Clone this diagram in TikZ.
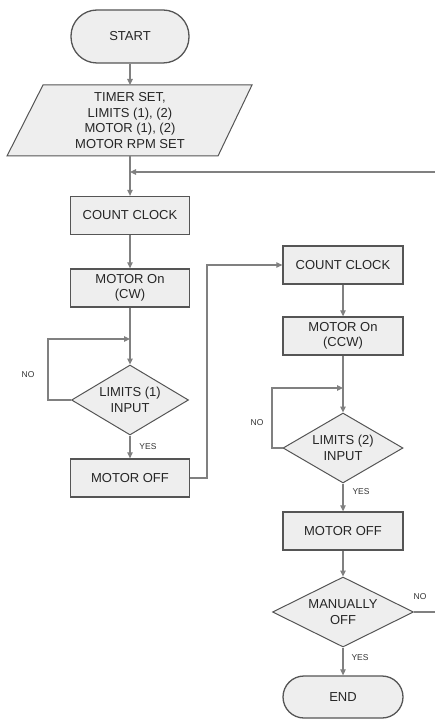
\documentclass[tikz,border=0pt]{standalone}
\usepackage{fontspec}
\setmainfont{Liberation Sans}
\usetikzlibrary{shapes.geometric,arrows.meta}
\definecolor{boxfill}{HTML}{EEEEEE}
\definecolor{boxline}{HTML}{555555}
\definecolor{arrline}{HTML}{808080}
\begin{document}
\begin{tikzpicture}[x=1pt,y=-1pt,
  every node/.style={font=\fontsize{13}{15.4}\selectfont, text=black!85},
  box/.style={draw=boxline, fill=boxfill, line width=1.3pt, minimum width=119pt, minimum height=38pt, inner sep=0pt, align=center},
  term/.style={box, rounded corners=20pt},
  dec/.style={diamond, draw=boxline, fill=boxfill, line width=1pt, inner sep=0pt, align=center, aspect=1.8},
  conn/.style={draw=arrline, line width=1.2pt},
  arr/.style={conn, -{Triangle[length=6pt,width=5.5pt]}},
  lbl/.style={font=\fontsize{8.5}{10}\selectfont, text=black!80}]
\useasboundingbox (0,0) rectangle (435,719);
% nodes
\node[term, minimum height=53pt, minimum width=118pt, rounded corners=26pt] (start) at (130,36.5) {START};
\draw[draw=boxline, fill=boxfill, line width=1pt] (43,85) -- (252,85) -- (218,156) -- (7,156) -- cycle;
\node[align=center] (inp) at (130,120.5) {TIMER SET,\\LIMITS (1), (2)\\MOTOR (1), (2)\\MOTOR RPM SET};
\coordinate (inptop) at (130,85);
\coordinate (inpbot) at (130,156);
\node[box] (cc1) at (130,215.5) {COUNT CLOCK};
\node[box] (mo1) at (130,288) {MOTOR On\\(CW)};
\node[dec, minimum width=117pt, minimum height=70pt, aspect=1.67] (d1) at (130,400) {LIMITS (1)\\INPUT};
\node[box] (off1) at (130,478) {MOTOR OFF};
\node[box, minimum width=120pt] (cc2) at (343,265) {COUNT CLOCK};
\node[box, minimum width=120pt] (mo2) at (343,336) {MOTOR On\\(CCW)};
\node[dec, minimum width=120pt, minimum height=70pt, aspect=1.71] (d2) at (343,448) {LIMITS (2)\\INPUT};
\node[box, minimum width=120pt] (off2) at (343,531) {MOTOR OFF};
\node[dec, minimum width=141pt, minimum height=70pt, aspect=2.01] (d3) at (343,612) {MANUALLY\\OFF};
\node[term, minimum width=120pt, minimum height=42pt, rounded corners=21pt] (end) at (343,697) {END};
% junction coordinates
\coordinate (j0) at (130,172);
\coordinate (r2) at (435,172);
\coordinate (r1) at (435,612);
\coordinate (j1) at (130,339);
\coordinate (j2) at (343,388);
% connectors
\draw[arr] (start) -- (inptop);
\draw[arr] (inpbot) -- (cc1);
\draw[arr] (r2) -- (j0);
\draw[arr] (cc1) -- (mo1);
\draw[arr] (mo1) -- (d1);
\draw[arr] (d1.west) -- (48,400) |- (j1);
\draw[arr] (d1) -- (off1);
\draw[arr] (off1.east) -- (207,478) |- (cc2.west);
\draw[arr] (cc2) -- (mo2);
\draw[arr] (mo2) -- (d2);
\draw[arr] (d2.west) -- (272,448) |- (j2);
\draw[arr] (d2) -- (off2);
\draw[arr] (off2) -- (d3);
\draw[conn] (d3.east) -- (r1);
\draw[arr] (d3) -- (end);
% labels
\node[lbl] (no1) at (28,375) {NO};
\node[lbl] (yes1) at (148,447) {YES};
\node[lbl] (no2) at (257,423) {NO};
\node[lbl] (yes2) at (361,492) {YES};
\node[lbl] (no3) at (420,597) {NO};
\node[lbl] (yes3) at (360,658) {YES};
\end{tikzpicture}
\end{document}
